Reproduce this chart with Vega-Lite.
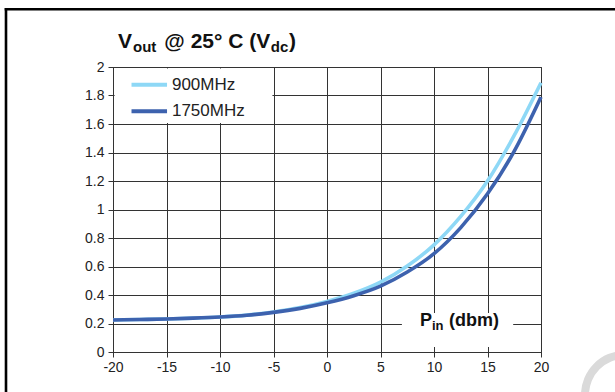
{
  "$schema": "https://vega.github.io/schema/vega-lite/v6.json",
  "width": 428,
  "height": 285,
  "autosize": {"type": "none"},
  "padding": {"left": 113, "top": 67, "right": 74, "bottom": 40},
  "background": "white",
  "config": {
    "view": {"stroke": "#333", "strokeWidth": 1},
    "font": "Liberation Sans",
    "axis": {
      "labelFont": "Liberation Sans",
      "labelFontSize": 14,
      "labelColor": "#222",
      "domainColor": "#333",
      "gridColor": "#333",
      "gridOpacity": 1,
      "gridWidth": 1,
      "grid": true,
      "tickColor": "#333",
      "tickSize": 5,
      "labelOverlap": false,
      "labelFlush": false,
      "labelExpr": "replace(format(datum.value, '~g'), '\u2212', '-')",
      "title": null
    },
    "axisX": {"tickCount": 8, "labelPadding": 3},
    "axisY": {"tickCount": 10, "labelPadding": 4}
  },
  "datasets": {
    "curves": [
      {"pin": -20, "vout": 0.225, "freq": "900MHz"},
      {"pin": -17.5, "vout": 0.228, "freq": "900MHz"},
      {"pin": -15, "vout": 0.232, "freq": "900MHz"},
      {"pin": -12.5, "vout": 0.238, "freq": "900MHz"},
      {"pin": -10, "vout": 0.246, "freq": "900MHz"},
      {"pin": -7.5, "vout": 0.259, "freq": "900MHz"},
      {"pin": -5, "vout": 0.281, "freq": "900MHz"},
      {"pin": -2.5, "vout": 0.312, "freq": "900MHz"},
      {"pin": 0, "vout": 0.355, "freq": "900MHz"},
      {"pin": 2.5, "vout": 0.412, "freq": "900MHz"},
      {"pin": 5, "vout": 0.49, "freq": "900MHz"},
      {"pin": 7.5, "vout": 0.603, "freq": "900MHz"},
      {"pin": 10, "vout": 0.752, "freq": "900MHz"},
      {"pin": 12.5, "vout": 0.952, "freq": "900MHz"},
      {"pin": 15, "vout": 1.2, "freq": "900MHz"},
      {"pin": 17.5, "vout": 1.52, "freq": "900MHz"},
      {"pin": 20, "vout": 1.89, "freq": "900MHz"},
      {"pin": -20, "vout": 0.225, "freq": "1750MHz"},
      {"pin": -17.5, "vout": 0.228, "freq": "1750MHz"},
      {"pin": -15, "vout": 0.232, "freq": "1750MHz"},
      {"pin": -12.5, "vout": 0.238, "freq": "1750MHz"},
      {"pin": -10, "vout": 0.246, "freq": "1750MHz"},
      {"pin": -7.5, "vout": 0.258, "freq": "1750MHz"},
      {"pin": -5, "vout": 0.278, "freq": "1750MHz"},
      {"pin": -2.5, "vout": 0.306, "freq": "1750MHz"},
      {"pin": 0, "vout": 0.345, "freq": "1750MHz"},
      {"pin": 2.5, "vout": 0.395, "freq": "1750MHz"},
      {"pin": 5, "vout": 0.462, "freq": "1750MHz"},
      {"pin": 7.5, "vout": 0.561, "freq": "1750MHz"},
      {"pin": 10, "vout": 0.69, "freq": "1750MHz"},
      {"pin": 12.5, "vout": 0.873, "freq": "1750MHz"},
      {"pin": 15, "vout": 1.11, "freq": "1750MHz"},
      {"pin": 17.5, "vout": 1.41, "freq": "1750MHz"},
      {"pin": 20, "vout": 1.79, "freq": "1750MHz"}
    ],
    "legend": [
      {"freq": "900MHz", "x0": -18.27, "x1": -14.95, "xt": -14.49, "y": 1.876},
      {"freq": "1750MHz", "x0": -18.27, "x1": -14.95, "xt": -14.49, "y": 1.69}
    ],
    "title": [
      {"t": "V", "x": -19.53, "y": 2.13, "size": 21},
      {"t": "out", "x": -18.13, "y": 2.105, "size": 15},
      {"t": "@ 25° C (V", "x": -15.2, "y": 2.13, "size": 21},
      {"t": "dc", "x": -5.25, "y": 2.105, "size": 15},
      {"t": ")", "x": -3.55, "y": 2.13, "size": 21},
      {"t": "P", "x": 8.69, "y": 0.1825, "size": 18},
      {"t": "in", "x": 9.81, "y": 0.154, "size": 13},
      {"t": "(dbm)", "x": 11.4, "y": 0.1825, "size": 18}
    ],
    "boxes": [
      {"x0": -19.85, "x1": -5.1, "y0": 1.607, "y1": 1.99},
      {"x0": 7.0, "x1": 17.4, "y0": 0.035, "y1": 0.274}
    ],
    "frame": [
      {"x0": -30, "x1": 32, "y0": 2.405, "y1": 2.405},
      {"x0": -30, "x1": -30, "y0": -1, "y1": 2.405}
    ],
    "stamp": [
      {"x": 27.85, "y": -0.3}
    ]
  },
  "layer": [
    {
      "data": {"name": "frame"},
      "mark": {"type": "rule", "stroke": "black", "strokeWidth": 2.6, "strokeCap": "square", "clip": false},
      "encoding": {
        "x": {"field": "x0", "type": "quantitative", "scale": {"domain": [-20, 20], "nice": false, "zero": false}},
        "x2": {"field": "x1"},
        "y": {"field": "y0", "type": "quantitative", "scale": {"domain": [0, 2], "nice": false, "zero": false}},
        "y2": {"field": "y1"}
      }
    },
    {
      "data": {"name": "stamp"},
      "mark": {"type": "arc", "innerRadius": 36, "outerRadius": 44, "theta": 0, "theta2": 6.2832, "fill": "#dadada", "clip": false},
      "encoding": {
        "x": {"field": "x", "type": "quantitative"},
        "y": {"field": "y", "type": "quantitative"}
      }
    },
    {
      "data": {"name": "boxes"},
      "mark": {"type": "rect", "fill": "white", "stroke": null},
      "encoding": {
        "x": {"field": "x0", "type": "quantitative"},
        "x2": {"field": "x1"},
        "y": {"field": "y0", "type": "quantitative"},
        "y2": {"field": "y1"}
      }
    },
    {
      "data": {"name": "curves"},
      "mark": {"type": "line", "strokeWidth": 3.6, "interpolate": "monotone", "clip": false},
      "encoding": {
        "x": {"field": "pin", "type": "quantitative"},
        "y": {"field": "vout", "type": "quantitative"},
        "color": {"field": "freq", "type": "nominal", "scale": {"domain": ["900MHz", "1750MHz"], "range": ["#8ed8f6", "#3d62ae"]}, "legend": null}
      }
    },
    {
      "data": {"name": "legend"},
      "mark": {"type": "rule", "strokeWidth": 4},
      "encoding": {
        "x": {"field": "x0", "type": "quantitative"},
        "x2": {"field": "x1"},
        "y": {"field": "y", "type": "quantitative"},
        "color": {"field": "freq", "type": "nominal", "legend": null}
      }
    },
    {
      "data": {"name": "legend"},
      "mark": {"type": "text", "align": "left", "baseline": "middle", "fontSize": 17, "font": "Liberation Sans", "color": "#222"},
      "encoding": {
        "x": {"field": "xt", "type": "quantitative"},
        "y": {"field": "y", "type": "quantitative"},
        "text": {"field": "freq"}
      }
    },
    {
      "data": {"name": "title"},
      "mark": {"type": "text", "align": "left", "baseline": "alphabetic", "fontWeight": "bold", "font": "Liberation Sans", "color": "#111", "clip": false},
      "encoding": {
        "x": {"field": "x", "type": "quantitative"},
        "y": {"field": "y", "type": "quantitative"},
        "text": {"field": "t"},
        "size": {"field": "size", "type": "quantitative", "scale": null}
      }
    }
  ]
}
